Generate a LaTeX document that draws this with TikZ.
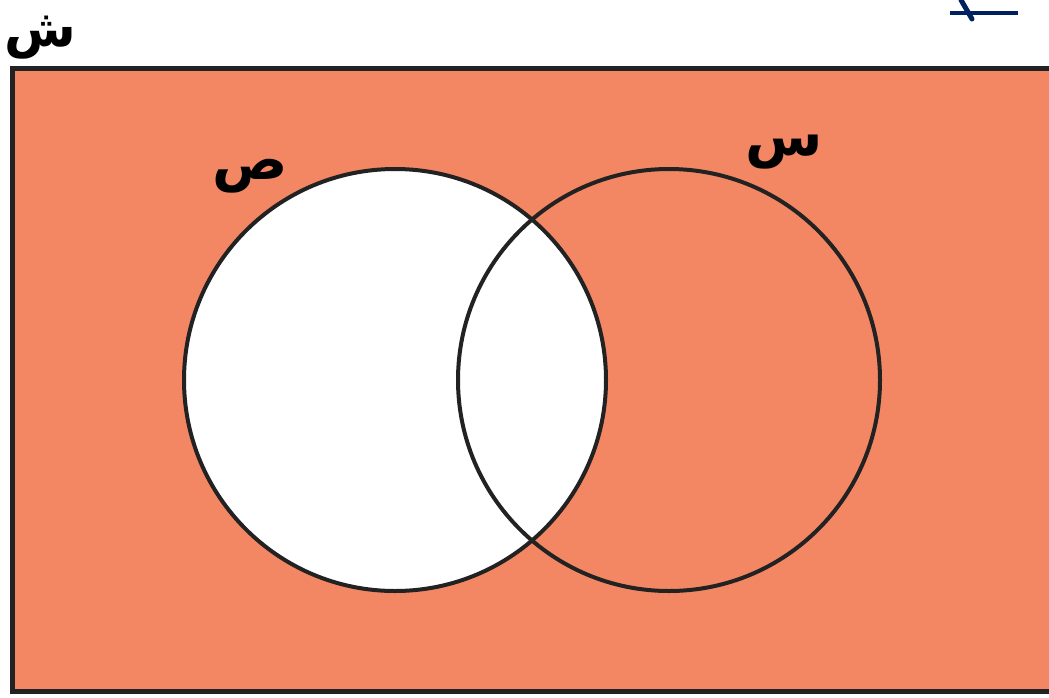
\documentclass[tikz,border=0pt]{standalone}
\usepackage{fontspec}
\newfontfamily\arabicfont[Script=Arabic]{DejaVu Sans}
\TeXXeTstate=1
\definecolor{venn}{RGB}{243,135,100}
\definecolor{edge}{RGB}{34,34,34}
\definecolor{penblue}{RGB}{0,32,96}
\tikzset{
  setlabel/.style={font=\arabicfont\bfseries\fontsize{56}{60}\selectfont, inner sep=0pt, text=black},
  setcircle/.style={draw=edge, line width=4pt}
}
\begin{document}
\begin{tikzpicture}[x=1pt,y=-1pt]
\useasboundingbox (0,0) rectangle (1049,697);
\begin{scope}
\clip (0,0) rectangle (1049,697);
\fill[venn] (12,68) rectangle (1070,691);
\draw[edge, line width=5pt] (1070,68) -- (12,68) -- (12,691) -- (1070,691);
\fill[white] (395,380) circle[radius=211];
\node[setcircle, circle, minimum size=422pt, inner sep=0pt] (Y) at (395,380) {};
\node[setcircle, circle, minimum size=422pt, inner sep=0pt] (X) at (669,380) {};
\draw[penblue, line width=4pt] (950,13) -- (1018,13);
\draw[penblue, line width=5pt, line cap=round] (961,0) -- (972,19);
\end{scope}
\node[setlabel, font=\arabicfont\bfseries\fontsize{52}{56}\selectfont] (U) at (40,38) {\beginR ش\endR};
\node[setlabel] (Ylab) at (250,176) {\beginR ص\endR};
\node[setlabel] (Xlab) at (784,152) {\beginR س\endR};
\end{tikzpicture}
\end{document}
